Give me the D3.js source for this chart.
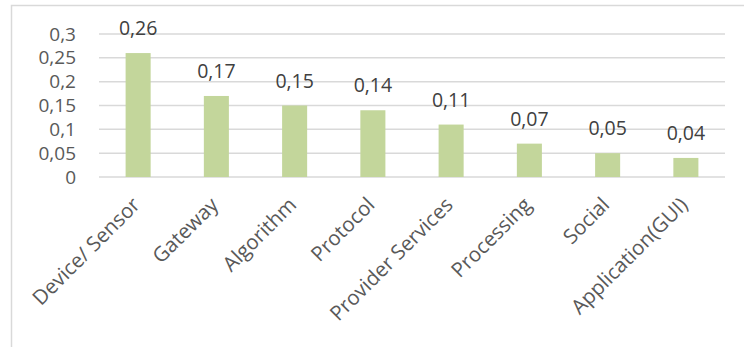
<!DOCTYPE html>
<html>
<head>
<meta charset="utf-8">
<script src="https://cdn.jsdelivr.net/npm/d3@7"></script>
<style>
  body { margin: 0; background: #fff; }
  svg { display: block; }
  svg text { font-family: "Open Sans", sans-serif; }
</style>
</head>
<body>
<div id="chart"></div>
<script>
// Datos del gráfico
const categories = ["Device/ Sensor", "Gateway", "Algorithm", "Protocol", "Provider Services", "Processing", "Social", "Application(GUI)"];
const values = [0.26, 0.17, 0.15, 0.14, 0.11, 0.07, 0.05, 0.04];
const yTicks = [0, 0.05, 0.1, 0.15, 0.2, 0.25, 0.3];

const W = 744, H = 347;
const margin = {top: 34, right: 19, bottom: 170, left: 99};
const width = W - margin.left - margin.right;
const height = H - margin.top - margin.bottom;
const fmt = v => String(v).replace(".", ",");

const svg = d3.select("#chart").append("svg")
    .attr("width", W).attr("height", H);

// Marco del gráfico
svg.append("rect")
    .attr("x", 11.5).attr("y", 5.5)
    .attr("width", 760).attr("height", 400)
    .attr("fill", "none").attr("stroke", "#d9d9d9").attr("stroke-width", 1.5);

const g = svg.append("g")
    .attr("transform", "translate(" + margin.left + "," + margin.top + ")");

const x = d3.scaleBand().domain(categories).range([0, width]).paddingInner(0.68).paddingOuter(0.34);
const y = d3.scaleLinear().domain([0, 0.3]).range([height, 0]);

// Líneas de cuadrícula
g.selectAll(".grid")
    .data(yTicks)
    .enter().append("line")
    .attr("x1", 0).attr("x2", width)
    .attr("y1", d => y(d)).attr("y2", d => y(d))
    .attr("stroke", "#d9d9d9").attr("stroke-width", 1.5);

// Eje Y
const yAxis = g.append("g")
    .call(d3.axisLeft(y).tickValues(yTicks).tickFormat(fmt).tickSize(0).tickPadding(23));
yAxis.select(".domain").remove();
yAxis.selectAll("text")
    .attr("fill", "#595959").style("font-size", "19px");

// Barras
g.selectAll(".bar")
    .data(values)
    .enter().append("rect")
    .attr("class", "bar")
    .attr("x", (d, i) => x(categories[i]))
    .attr("y", d => y(d))
    .attr("width", x.bandwidth())
    .attr("height", d => height - y(d))
    .attr("fill", "#c3d69b");

// Etiquetas de datos
g.selectAll(".label")
    .data(values)
    .enter().append("text")
    .attr("x", (d, i) => x(categories[i]) + x.bandwidth() / 2)
    .attr("y", d => y(d) - 18)
    .attr("text-anchor", "middle")
    .attr("fill", "#404040")
    .style("font-size", "19.5px")
    .text(fmt);

// Eje X
const xAxis = g.append("g")
    .attr("transform", "translate(0," + height + ")")
    .call(d3.axisBottom(x).tickSize(0).tickPadding(0));
xAxis.select(".domain").remove();
xAxis.selectAll("text")
    .attr("fill", "#595959")
    .style("font-size", "20.5px")
    .attr("text-anchor", "end")
    .attr("dy", "0.7em")
    .attr("transform", "translate(-7,19) rotate(-45)");
</script>
</body>
</html>
